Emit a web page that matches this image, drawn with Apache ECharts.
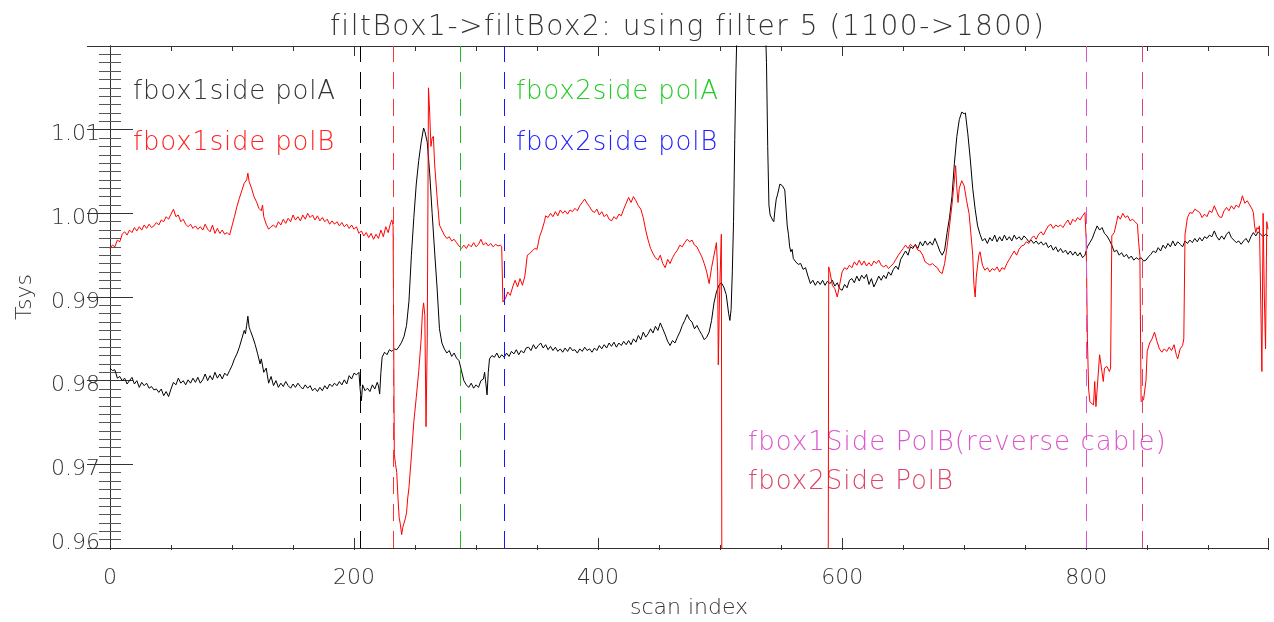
<!DOCTYPE html>
<html>
<head>
<meta charset="utf-8">
<title>filtBox1->filtBox2</title>
<script src="https://cdn.jsdelivr.net/npm/echarts@6/dist/echarts.min.js"></script>
<style>
  html, body { margin: 0; padding: 0; background: #fff; }
  #chart { width: 1274px; height: 622px; }
  #chart svg { will-change: transform; }
</style>
</head>
<body>
<div id="chart"></div>
<script>
// fbox1side polA (black)  [scan index, Tsys]
const polA = [
  [0,0.9815],[2,0.9812],[4,0.9813],[6,0.9803],[8,0.9805],[10,0.9800],[12,0.9803],[14,0.9796],[16,0.9800],[18,0.9804],
  [20,0.9796],[22,0.9800],[24,0.9792],[26,0.9798],[28,0.9794],[30,0.9797],[32,0.9791],[34,0.9793],[36,0.9789],[38,0.9790],
  [40,0.9786],[42,0.9790],[44,0.9782],[46,0.9787],[48,0.9781],[50,0.9790],[52,0.9798],[54,0.9795],[56,0.9803],[58,0.9797],
  [60,0.9800],[62,0.9795],[64,0.9801],[66,0.9797],[68,0.9803],[70,0.9798],[72,0.9804],[74,0.9797],[76,0.9801],[78,0.9808],
  [80,0.9800],[82,0.9806],[84,0.9801],[86,0.9810],[88,0.9803],[90,0.9808],[92,0.9802],[94,0.9809],[96,0.9806],[98,0.9812],
  [100,0.9818],[102,0.9826],[104,0.9832],[106,0.9840],[108,0.9850],[110,0.9860],[111,0.9856],[112,0.9866],[113,0.9877],[114,0.9864],
  [115,0.9860],[117,0.9852],[119,0.9843],[121,0.9832],[123,0.9820],[124,0.9826],[126,0.9810],[128,0.9815],[130,0.9797],[132,0.9805],
  [134,0.9794],[136,0.9800],[138,0.9792],[140,0.9797],[142,0.9793],[144,0.9799],[146,0.9794],[148,0.9791],[150,0.9796],[152,0.9792],
  [154,0.9797],[156,0.9793],[158,0.9790],[160,0.9795],[162,0.9791],[164,0.9794],[166,0.9788],[168,0.9791],[170,0.9787],[172,0.9792],
  [174,0.9788],[176,0.9794],[178,0.9790],[180,0.9796],[182,0.9793],[184,0.9797],[186,0.9794],[188,0.9799],[190,0.9795],[192,0.9801],
  [194,0.9796],[196,0.9806],[198,0.9802],[200,0.9809],[202,0.9807],[204,0.9810],[205,0.9790],[206,0.9776],[207,0.9795],[209,0.9788],
  [211,0.9791],[213,0.9787],[215,0.9795],[217,0.9790],[219,0.9798],[220,0.9794],[221,0.9784],[222,0.9810],[223,0.9828],[225,0.9834],
  [227,0.9831],[229,0.9837],[231,0.9835],[233,0.9838],[235,0.9837],[237,0.9841],[239,0.9846],[241,0.9853],[243,0.9866],[245,0.9895],
  [247,0.9950],[249,0.9995],[251,1.0035],[253,1.0063],[255,1.0085],[257,1.0102],[258,1.0098],[260,1.0085],[262,1.0048],[264,1.0000],
  [266,0.9955],[268,0.9912],[270,0.9862],[272,0.9845],[274,0.9838],[276,0.9833],[278,0.9836],[280,0.9829],[282,0.9833],[284,0.9827],
  [286,0.9824],[288,0.9812],[290,0.9800],[292,0.9795],[294,0.9792],[296,0.9797],[298,0.9791],[300,0.9795],[302,0.9792],[304,0.9800],
  [306,0.9802],[307,0.9810],[308,0.9797],[309,0.9783],[310,0.9810],[311,0.9826],[313,0.9830],[315,0.9828],[317,0.9833],[319,0.9827],
  [321,0.9831],[323,0.9828],[325,0.9833],[327,0.9829],[329,0.9835],[331,0.9832],[333,0.9837],[335,0.9831],[337,0.9836],[339,0.9833],
  [341,0.9839],[343,0.9840],[345,0.9836],[347,0.9843],[349,0.9838],[351,0.9842],[353,0.9845],[355,0.9839],[357,0.9843],[359,0.9837],
  [361,0.9841],[363,0.9836],[365,0.9840],[367,0.9835],[369,0.9838],[371,0.9834],[373,0.9839],[375,0.9835],[377,0.9840],[379,0.9836],
  [381,0.9837],[383,0.9833],[385,0.9838],[387,0.9835],[389,0.9840],[391,0.9836],[393,0.9838],[395,0.9834],[397,0.9839],[399,0.9836],
  [401,0.9842],[403,0.9838],[405,0.9843],[407,0.9839],[409,0.9845],[411,0.9841],[413,0.9846],[415,0.9840],[417,0.9845],[419,0.9842],
  [421,0.9847],[423,0.9843],[425,0.9848],[427,0.9843],[429,0.9850],[431,0.9846],[433,0.9854],[435,0.9849],[437,0.9858],[439,0.9852],
  [441,0.9856],[443,0.9862],[445,0.9857],[447,0.9865],[449,0.9860],[451,0.9869],[453,0.9862],[455,0.9855],[457,0.9847],[459,0.9842],
  [461,0.9848],[463,0.9845],[465,0.9852],[467,0.9858],[469,0.9866],[471,0.9872],[473,0.9879],[475,0.9873],[477,0.9870],[479,0.9862],
  [481,0.9866],[483,0.9860],[485,0.9855],[487,0.9849],[489,0.9852],[491,0.9858],[493,0.9872],[495,0.9893],[497,0.9906],[499,0.9914],
  [501,0.9917],[503,0.9912],[505,0.9903],[507,0.9880],[508,0.9872],[509,0.9885],[510,0.9930],[511,0.9990],[512,1.0088],[513,1.0170],
  [514,1.0230],[516,1.0300],[520,1.0350],[530,1.0350],[535,1.0300],[537,1.0230],[538,1.0180],[539,1.0080],[540,1.0010],[541,0.9998],
  [543,0.9992],[544,0.9990],[545,1.0005],[546,1.0017],[547,1.0022],[549,1.0035],[551,1.0033],[553,1.0028],[555,0.9985],[556,0.9975],
  [557,0.9960],[558,0.9954],[559,0.9957],[560,0.9946],[562,0.9942],[564,0.9939],[566,0.9940],[568,0.9933],[570,0.9935],[572,0.9925],
  [574,0.9916],[576,0.9920],[578,0.9914],[580,0.9919],[582,0.9915],[584,0.9920],[586,0.9914],[588,0.9919],[590,0.9916],[592,0.9920],
  [594,0.9913],[596,0.9917],[598,0.9910],[600,0.9908],[602,0.9915],[604,0.9911],[606,0.9920],[608,0.9922],[610,0.9917],[612,0.9925],
  [614,0.9919],[616,0.9926],[618,0.9922],[620,0.9927],[622,0.9915],[624,0.9922],[626,0.9912],[628,0.9918],[630,0.9925],[632,0.9920],
  [634,0.9926],[636,0.9922],[638,0.9930],[640,0.9926],[642,0.9933],[644,0.9937],[646,0.9933],[648,0.9945],[650,0.9950],[652,0.9955],
  [654,0.9950],[656,0.9960],[658,0.9958],[660,0.9963],[662,0.9958],[664,0.9966],[666,0.9961],[668,0.9967],[670,0.9962],[672,0.9966],
  [674,0.9962],[676,0.9970],[678,0.9963],[680,0.9955],[682,0.9950],[684,0.9956],[686,0.9977],[688,0.9995],[690,1.0020],[692,1.0060],
  [694,1.0092],[696,1.0112],[698,1.0121],[700,1.0119],[701,1.0120],[703,1.0095],[705,1.0065],[707,1.0030],[709,1.0005],[711,0.9985],
  [713,0.9975],[715,0.9967],[717,0.9970],[719,0.9964],[721,0.9971],[723,0.9967],[725,0.9974],[727,0.9966],[729,0.9972],[731,0.9967],
  [733,0.9974],[735,0.9968],[737,0.9972],[739,0.9967],[741,0.9974],[743,0.9969],[745,0.9972],[747,0.9968],[749,0.9973],[751,0.9970],
  [753,0.9966],[755,0.9968],[757,0.9964],[759,0.9967],[761,0.9963],[763,0.9966],[765,0.9962],[767,0.9965],[769,0.9959],[771,0.9962],
  [773,0.9956],[775,0.9960],[777,0.9954],[779,0.9958],[781,0.9953],[783,0.9956],[785,0.9951],[787,0.9955],[789,0.9950],[791,0.9954],
  [793,0.9949],[795,0.9953],[797,0.9947],[799,0.9950],[801,0.9960],[803,0.9965],[805,0.9970],[807,0.9978],[809,0.9985],[811,0.9980],
  [813,0.9983],[815,0.9976],[817,0.9973],[819,0.9968],[821,0.9962],[823,0.9954],[825,0.9956],[827,0.9950],[829,0.9953],[831,0.9948],
  [833,0.9951],[835,0.9946],[837,0.9949],[839,0.9944],[841,0.9947],[843,0.9945],[845,0.9947],[847,0.9943],[849,0.9944],[851,0.9948],
  [853,0.9951],[855,0.9955],[857,0.9953],[859,0.9959],[861,0.9955],[863,0.9962],[865,0.9958],[867,0.9964],[869,0.9960],[871,0.9967],
  [873,0.9961],[875,0.9966],[877,0.9963],[879,0.9960],[881,0.9967],[883,0.9964],[885,0.9968],[887,0.9965],[889,0.9970],[891,0.9966],
  [893,0.9971],[895,0.9967],[897,0.9972],[899,0.9970],[901,0.9974],[903,0.9972],[905,0.9979],[907,0.9972],[909,0.9968],[911,0.9973],
  [913,0.9969],[915,0.9975],[917,0.9978],[919,0.9971],[921,0.9968],[923,0.9965],[925,0.9967],[927,0.9963],[929,0.9967],[931,0.9970],
  [933,0.9965],[935,0.9972],[937,0.9977],[939,0.9973],[941,0.9978],[943,0.9975],[945,0.9972],[947,0.9975],[949,0.9973]
];

// fbox1side polB (red)  [scan index, Tsys]; 0.90 = off the bottom of the plot
const polB = [
  [0,0.9958],[2,0.9962],[4,0.9960],[6,0.9968],[8,0.9966],[10,0.9975],[12,0.9978],[14,0.9974],[16,0.9980],[18,0.9977],
  [20,0.9983],[22,0.9979],[24,0.9984],[26,0.9980],[28,0.9986],[30,0.9982],[32,0.9987],[34,0.9983],[36,0.9985],[38,0.9989],
  [40,0.9986],[42,0.9992],[44,0.9990],[46,0.9996],[48,0.9993],[50,0.9999],[52,1.0005],[54,0.9996],[56,0.9998],[58,0.9990],
  [60,0.9993],[62,0.9987],[64,0.9984],[66,0.9987],[68,0.9982],[70,0.9985],[72,0.9981],[74,0.9984],[76,0.9980],[78,0.9987],
  [80,0.9981],[82,0.9978],[84,0.9986],[86,0.9976],[88,0.9982],[90,0.9976],[92,0.9980],[94,0.9975],[96,0.9977],[98,0.9974],
  [100,0.9985],[102,0.9996],[104,1.0008],[106,1.0018],[108,1.0027],[110,1.0036],[112,1.0040],[113,1.0048],[114,1.0038],[116,1.0030],
  [118,1.0020],[120,1.0014],[122,1.0006],[124,1.0003],[125,1.0010],[126,0.9996],[128,0.9987],[130,0.9981],[132,0.9984],[134,0.9986],
  [136,0.9983],[138,0.9990],[140,0.9986],[142,0.9993],[144,0.9988],[146,0.9994],[148,0.9990],[150,0.9998],[152,0.9992],[154,0.9996],
  [156,0.9991],[158,0.9998],[160,0.9993],[162,1.0000],[164,0.9995],[166,0.9998],[168,0.9992],[170,0.9997],[172,0.9991],[174,0.9995],
  [176,0.9990],[178,0.9993],[180,0.9987],[182,0.9991],[184,0.9987],[186,0.9990],[188,0.9985],[190,0.9989],[192,0.9984],[194,0.9987],
  [196,0.9982],[198,0.9986],[200,0.9981],[202,0.9984],[204,0.9976],[206,0.9979],[208,0.9973],[210,0.9977],[212,0.9971],[214,0.9976],
  [216,0.9969],[218,0.9975],[220,0.9970],[222,0.9980],[224,0.9972],[226,0.9984],[228,0.9977],[230,0.9989],[231,0.9992],[232,0.9985],
  [233,0.9712],[234,0.9700],[235,0.9690],[236,0.9660],[237,0.9636],[238,0.9628],[239,0.9616],[240,0.9625],[242,0.9635],[243,0.9642],
  [244,0.9660],[245,0.9672],[247,0.9710],[249,0.9751],[251,0.9780],[253,0.9811],[255,0.9850],[256,0.9880],[257,0.9893],[258,0.9878],
  [259,0.9745],[260,0.9850],[261,1.0150],[262,1.0120],[263,1.0080],[264,1.0090],[265,1.0092],[266,1.0060],[268,1.0020],[270,0.9986],
  [272,0.9980],[274,0.9974],[276,0.9970],[278,0.9972],[280,0.9967],[282,0.9969],[284,0.9965],[286,0.9961],[288,0.9958],[290,0.9962],
  [292,0.9958],[294,0.9963],[296,0.9960],[298,0.9965],[300,0.9960],[302,0.9963],[304,0.9969],[306,0.9962],[308,0.9965],[310,0.9961],
  [312,0.9964],[314,0.9960],[316,0.9963],[318,0.9961],[320,0.9962],[321,0.9960],[322,0.9894],[324,0.9898],[326,0.9906],[328,0.9902],
  [330,0.9912],[332,0.9920],[334,0.9912],[336,0.9922],[338,0.9914],[340,0.9925],[342,0.9950],[344,0.9952],[346,0.9955],[348,0.9958],
  [350,0.9957],[352,0.9972],[354,0.9980],[356,0.9990],[357,0.9997],[359,0.9995],[361,1.0000],[363,0.9996],[365,1.0002],[367,0.9997],
  [369,1.0004],[371,1.0000],[373,1.0003],[375,0.9999],[377,1.0004],[379,1.0002],[381,1.0006],[383,1.0003],[385,1.0009],[387,1.0013],
  [389,1.0017],[391,1.0012],[393,1.0008],[395,1.0003],[397,1.0001],[399,1.0005],[401,0.9998],[403,1.0002],[405,0.9996],[407,0.9999],
  [409,0.9993],[411,0.9991],[413,0.9996],[415,0.9993],[417,0.9999],[419,0.9997],[421,1.0005],[423,1.0012],[425,1.0019],[427,1.0013],
  [429,1.0020],[431,1.0015],[433,1.0009],[435,1.0005],[437,0.9995],[439,0.9980],[441,0.9968],[443,0.9958],[445,0.9952],[447,0.9947],
  [449,0.9944],[451,0.9950],[453,0.9940],[455,0.9935],[457,0.9945],[459,0.9940],[461,0.9947],[463,0.9952],[465,0.9956],[467,0.9962],
  [469,0.9960],[471,0.9965],[473,0.9969],[475,0.9966],[477,0.9968],[479,0.9962],[481,0.9960],[483,0.9954],[485,0.9948],[487,0.9940],
  [489,0.9930],[491,0.9916],[493,0.9935],[495,0.9950],[497,0.9965],[498,0.9930],[498.5,0.9819],[499.5,0.9900],[501,0.9975],[502,0.9000],
  [588,0.9000],[589,0.9936],[590,0.9930],[592,0.9914],[594,0.9910],[596,0.9900],[598,0.9915],[600,0.9930],[602,0.9935],[604,0.9933],
  [606,0.9938],[608,0.9935],[610,0.9942],[612,0.9938],[614,0.9944],[616,0.9938],[618,0.9943],[620,0.9937],[622,0.9941],[624,0.9937],
  [626,0.9943],[628,0.9940],[630,0.9944],[632,0.9938],[634,0.9936],[636,0.9938],[638,0.9934],[640,0.9937],[642,0.9940],[644,0.9945],
  [646,0.9950],[648,0.9954],[650,0.9958],[652,0.9962],[654,0.9958],[656,0.9963],[658,0.9960],[660,0.9962],[662,0.9956],[664,0.9955],
  [666,0.9950],[668,0.9942],[670,0.9940],[672,0.9938],[674,0.9940],[676,0.9937],[678,0.9935],[680,0.9930],[682,0.9928],[684,0.9940],
  [686,0.9960],[688,0.9985],[690,1.0010],[692,1.0040],[693,1.0057],[694,1.0030],[695,1.0013],[696,1.0030],[698,1.0039],[700,1.0033],
  [702,1.0015],[704,1.0000],[706,0.9968],[707,0.9950],[708,0.9915],[709,0.9900],[710,0.9925],[712,0.9950],[713,0.9954],[715,0.9938],
  [717,0.9932],[719,0.9935],[721,0.9930],[723,0.9934],[725,0.9932],[727,0.9936],[729,0.9930],[731,0.9935],[733,0.9933],[735,0.9940],
  [737,0.9945],[739,0.9950],[741,0.9955],[743,0.9950],[745,0.9957],[747,0.9961],[749,0.9962],[751,0.9966],[753,0.9964],[755,0.9970],
  [757,0.9973],[759,0.9969],[761,0.9975],[763,0.9978],[765,0.9974],[767,0.9980],[769,0.9985],[771,0.9987],[773,0.9982],[775,0.9986],
  [777,0.9984],[779,0.9986],[781,0.9983],[783,0.9988],[785,0.9992],[787,0.9986],[789,0.9993],[791,0.9990],[793,0.9995],[795,0.9992],
  [797,0.9997],[799,1.0001],[800,0.9969],[801,0.9850],[802,0.9790],[803,0.9775],[805,0.9772],[806,0.9771],[807,0.9799],[808,0.9769],
  [809,0.9790],[811,0.9831],[813,0.9810],[814,0.9799],[815,0.9815],[817,0.9817],[819,0.9811],[820,0.9815],[821,0.9973],[823,0.9977],
  [825,0.9990],[826,0.9997],[828,0.9993],[830,1.0000],[832,0.9995],[834,0.9997],[836,0.9991],[838,0.9993],[840,0.9990],[842,0.9987],
  [843,0.9965],[844,0.9950],[845,0.9775],[847,0.9777],[849,0.9800],[850,0.9835],[852,0.9845],[854,0.9850],[856,0.9858],[858,0.9847],
  [860,0.9838],[862,0.9834],[864,0.9838],[866,0.9835],[868,0.9840],[870,0.9836],[872,0.9843],[874,0.9830],[875,0.9826],[877,0.9838],
  [879,0.9842],[880,0.9850],[881,0.9975],[883,0.9995],[885,1.0001],[887,1.0000],[889,1.0005],[891,1.0003],[893,1.0001],[895,0.9995],
  [897,0.9999],[899,0.9996],[901,1.0003],[903,1.0001],[905,1.0009],[907,1.0002],[909,0.9996],[911,0.9995],[913,1.0003],[915,1.0007],
  [917,1.0003],[919,1.0009],[921,1.0005],[923,1.0010],[925,1.0007],[927,1.0015],[928,1.0021],[930,1.0012],[932,1.0015],[934,1.0010],
  [936,1.0005],[937,1.0001],[938,0.9985],[939,0.9977],[940,0.9983],[941,0.9981],[942,0.9985],[943,0.9900],[944,0.9811],[945,1.0000],
  [946,0.9900],[947,0.9838],[948,0.9990],[949,0.9981]
];

// vertical dashed markers (scan index) and their colours
const markerX = [205, 232, 287, 323, 800, 846];
const markerColors = ['#000000', '#ff3333', '#22bb22', '#1515ff', '#dd55cc', '#dd4466'];

const noteTexts = ['fbox1side polA', 'fbox1side polB', 'fbox2side polA', 'fbox2side polB',
                   'fbox1Side PolB(reverse cable)', 'fbox2Side PolB'];
const noteColors = ['#333333', '#ff2222', '#22cc22', '#2222ff', '#dd55cc', '#dd4466'];
const notePos = [[133, 90], [133, 141], [516, 90], [516, 141], [748, 441], [748, 480]];
const noteSpacing = [0.8, 0.8, 0.8, 0.8, 1.05, 1.0];

const titleText = 'filtBox1->filtBox2: using filter 5 (1100->1800)';

const FONT = '"DejaVu Sans", sans-serif';
const WEIGHT = 200;
const TXT = '#333';

const chart = echarts.init(document.getElementById('chart'), null, { renderer: 'svg' });

const gridBox = { left: 110, right: 6, top: 46, bottom: 72 };

chart.setOption({
  animation: false,
  backgroundColor: '#fff',
  title: {
    text: titleText,
    left: 330,
    top: 11,
    padding: 0,
    textStyle: { fontFamily: FONT, fontSize: 28, fontWeight: WEIGHT, color: TXT, lineHeight: 28 },
  },
  grid: [Object.assign({}, gridBox), Object.assign({}, gridBox)],
  xAxis: [
    {
      gridIndex: 0, type: 'value', min: 0, max: 949, interval: 200, position: 'bottom',
      axisLine: { lineStyle: { color: TXT, width: 1 } },
      axisTick: { inside: true, length: 10, lineStyle: { color: TXT } },
      axisLabel: {
        margin: 17, fontFamily: FONT, fontWeight: WEIGHT, fontSize: 22, color: TXT,
        formatter: (v) => (v % 200 === 0 ? String(v) : ''),
      },
      splitLine: { show: false },
      name: 'scan index', nameLocation: 'middle', nameGap: 47,
      nameTextStyle: { fontFamily: FONT, fontWeight: WEIGHT, fontSize: 22, color: TXT },
    },
    {
      gridIndex: 0, type: 'value', min: 0, max: 949, interval: 200, position: 'top',
      axisLine: { lineStyle: { color: TXT, width: 1 } },
      axisTick: { inside: true, length: 10, lineStyle: { color: TXT } },
      axisLabel: { show: false },
      splitLine: { show: false },
    },
    {
      gridIndex: 1, type: 'value', min: 0, max: 949, interval: 50, position: 'bottom',
      axisLine: { show: false },
      axisTick: { inside: true, length: 5, lineStyle: { color: TXT } },
      axisLabel: { show: false },
      splitLine: { show: false },
    },
    {
      gridIndex: 1, type: 'value', min: 0, max: 949, interval: 50, position: 'top',
      axisLine: { show: false },
      axisTick: { inside: true, length: 5, lineStyle: { color: TXT } },
      axisLabel: { show: false },
      splitLine: { show: false },
    },
  ],
  yAxis: [
    {
      gridIndex: 0, type: 'value', min: 0.96, max: 1.02, interval: 0.01, position: 'left',
      axisLine: { show: true, lineStyle: { color: TXT, width: 1 } },
      axisTick: { show: true, inside: true, length: 23, lineStyle: { color: TXT } },
      minorTick: { show: true, splitNumber: 10, length: 11, lineStyle: { color: '#555' } },
      axisLabel: {
        margin: 10,
        formatter: (v) => {
          if (v > 1.015) return '';
          const s = v.toFixed(2);
          return Math.abs(v - 0.96) < 1e-6 ? '{low|' + s + '}' : '{n|' + s + '}';
        },
        rich: {
          n: { fontFamily: FONT, fontWeight: WEIGHT, fontSize: 22, color: TXT, padding: [6, 0, 0, 0] },
          low: { fontFamily: FONT, fontWeight: WEIGHT, fontSize: 22, color: TXT, padding: [0, 0, 13, 0] },
        },
      },
      splitLine: { show: false },
      name: 'Tsys', nameLocation: 'middle', nameGap: 76, nameRotate: 90,
      nameTextStyle: { fontFamily: FONT, fontWeight: WEIGHT, fontSize: 22, color: TXT },
    },
    {
      gridIndex: 0, type: 'value', min: 0.96, max: 1.02, interval: 0.01, position: 'right',
      axisLine: { show: true, lineStyle: { color: TXT, width: 1 } },
      axisTick: { show: true, inside: true, length: 23, lineStyle: { color: TXT } },
      minorTick: { show: true, splitNumber: 10, length: 11, lineStyle: { color: '#555' } },
      axisLabel: { show: false },
      splitLine: { show: false },
    },
    { gridIndex: 1, type: 'value', min: 0.96, max: 1.02, show: false },
  ],
  graphic: noteTexts.map((t, i) => ({
    type: 'text',
    x: notePos[i][0],
    y: notePos[i][1],
    silent: true,
    style: {
      text: t, fill: noteColors[i], fontFamily: FONT, fontWeight: WEIGHT, fontSize: 26,
      align: 'left', verticalAlign: 'middle',
    },
  })),
  series: [
    {
      name: 'fbox1side polA', type: 'line', xAxisIndex: 0, yAxisIndex: 0,
      data: polA, symbol: 'none', silent: true, z: 2,
      lineStyle: { color: '#000', width: 1 },
    },
    {
      name: 'fbox1side polB', type: 'line', xAxisIndex: 0, yAxisIndex: 0,
      data: polB, symbol: 'none', silent: true, z: 3,
      lineStyle: { color: '#ff0000', width: 1 },
    },
    {
      name: 'markers', type: 'line', xAxisIndex: 0, yAxisIndex: 0,
      data: [], symbol: 'none', silent: true, z: 4,
      markLine: {
        silent: true,
        symbol: ['none', 'none'],
        label: { show: false },
        emphasis: { disabled: true },
        data: markerX.map((x, i) => ({
          xAxis: x,
          lineStyle: { color: markerColors[i], type: [17, 10], width: 1 },
        })),
      },
    },
  ],
});

// the plot font is a wide vector font, so space the letters out a bit
chart.getDom().querySelectorAll('text').forEach((el) => {
  const t = el.textContent.replace(/\s+/g, ' ').trim();
  const k = noteTexts.indexOf(t);
  if (t === titleText) el.style.letterSpacing = '1.5px';
  else if (k >= 0) el.style.letterSpacing = noteSpacing[k] + 'px';
});
</script>
</body>
</html>
